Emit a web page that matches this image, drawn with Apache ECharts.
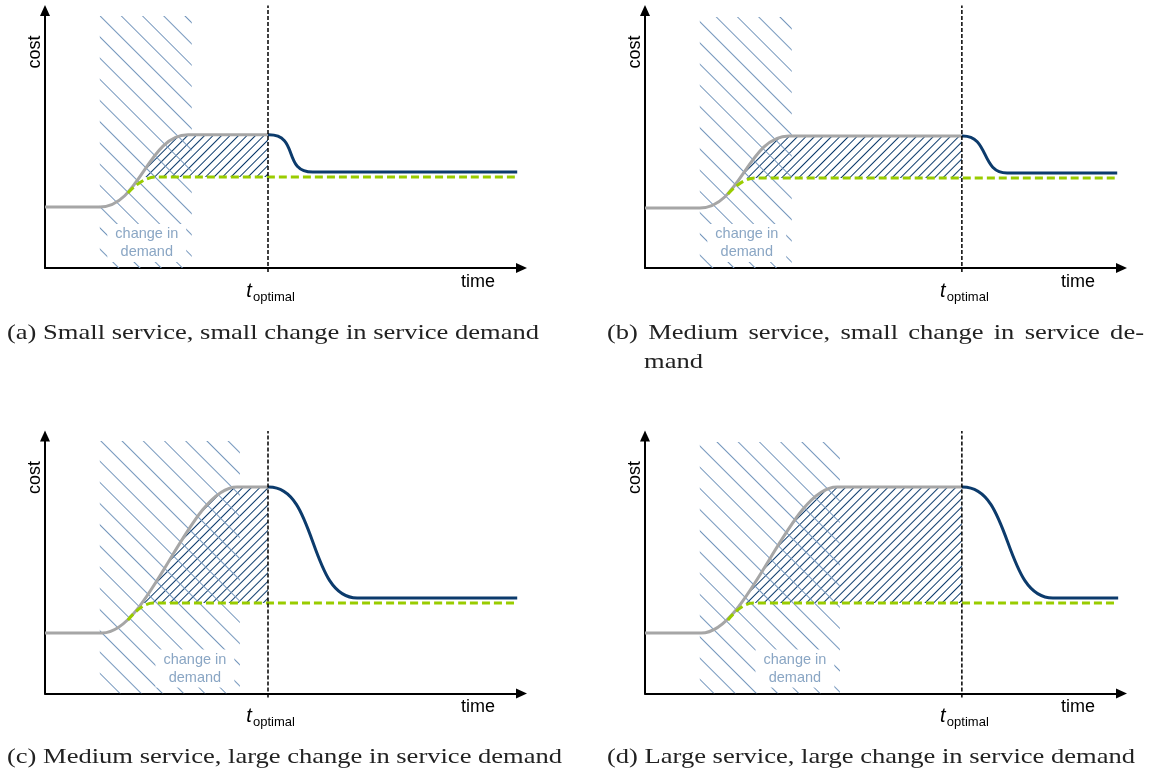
<!DOCTYPE html>
<html>
<head>
<meta charset="utf-8">
<script src="https://cdn.jsdelivr.net/npm/echarts@6/dist/echarts.min.js"></script>
<style>
html, body { margin: 0; padding: 0; background: #fff; }
#main { width: 1152px; height: 774px; }
</style>
</head>
<body>
<div id="main"></div>
<script>
// every panel: time axis 0..100, cost axis 0..100
// order of panels: a, b, c, d

// grey = cost curve while the service is scaled (corner points, S-curves by smoothing)
var greyA = [[0,23.7],[11.5,23.7],[30.0,51.7],[46.8,51.7]];
var greyB = [[0,23.3],[11.5,23.3],[30.2,51.3],[66.5,51.3]];
var greyC = [[0,23.5],[12.0,23.5],[40.3,80.2],[46.8,80.2]];
var greyD = [[0,23.5],[11.8,23.5],[40.3,80.2],[66.5,80.2]];

// green dashed = optimal cost
var greenA = [[17.4,29.1],[23.1,35.3],[99.1,35.3]];
var greenB = [[17.4,28.7],[23.1,35.0],[99.1,35.0]];
var greenC = [[17.4,28.5],[22.7,35.1],[99.1,35.1]];
var greenD = [[17.4,28.5],[22.7,35.1],[99.1,35.1]];

// dark blue = cost after reconfiguration at t_optimal (leaves flat, S-drop, flat)
var blueA = [[46.8,51.7],[47.0,51.7],[56.2,37.3],[99.1,37.3]];
var blueB = [[66.5,51.3],[66.7,51.3],[76.0,36.9],[99.1,36.9]];
var blueC = [[46.8,80.2],[47.0,80.2],[65.5,37.1],[99.1,37.1]];
var blueD = [[66.5,80.2],[66.7,80.2],[85.6,37.1],[99.3,37.1]];

// dark hatched gap between grey and green: from where they part, down to the green level
var gapStart = [20.0, 20.0, 20.3, 20.3];
var gapBase = [35.3, 35.0, 35.1, 35.1];

// "change in demand" window and t_optimal
var demandX = [[11.5,30.8],[11.5,30.8],[11.5,40.9],[11.5,40.9]];
var demandTop = [97.9, 97.5, 98.1, 97.7];
var tOptimal = [46.8, 66.5, 46.8, 66.5];
var tOptSpan = [-1.6, 101.9];

var captions = [
    ['(a) Small service, small change in service demand'],
    ['(b) Medium service, small change in service de-', 'mand'],
    ['(c) Medium service, large change in service demand'],
    ['(d) Large service, large change in service demand']
];

var greys = [greyA, greyB, greyC, greyD];
var greens = [greenA, greenB, greenC, greenD];
var blues = [blueA, blueB, blueC, blueD];
// curve bend of each panel
var greyBend = [0.45, 0.45, 0.35, 0.35];
var blueBend = [0.7, 0.6, 0.55, 0.55];

var gridLeft = [45, 645, 45, 645];
var gridTop = [10.5, 10.5, 436, 436];
var GW = 476.5, GH = 257.5;

var chart = echarts.init(document.getElementById('main'));

function axis(i, min, max, show) {
    return {
        type: 'value', gridIndex: i, min: min, max: max, show: show,
        axisLine: {show: true, onZero: false, symbol: ['none', 'triangle'], symbolSize: [10, 11],
            lineStyle: {color: '#000', width: 2}},
        axisTick: {show: false}, axisLabel: {show: false}, splitLine: {show: false}
    };
}
function lineSeries(i, data, extra) {
    var s = {type: 'line', xAxisIndex: i, yAxisIndex: i, data: data, symbol: 'none', showSymbol: false, silent: true};
    for (var k in extra) s[k] = extra[k];
    return s;
}
function stripes(color, gap, rot) {
    return {symbol: 'rect', symbolSize: 1, dashArrayX: [1, 0], dashArrayY: [1, gap], rotation: rot, color: color};
}

var grids = [], xAxes = [], yAxes = [], series = [];
for (var i = 0; i < 4; i++) {
    grids.push({left: gridLeft[i], top: gridTop[i], width: GW, height: GH});
    xAxes.push(axis(i, 0, 100, true));
    yAxes.push(axis(i, 0, 100, true));
}
// hidden grids that only clip the dark hatch to [gapStart, t_optimal]
for (var i = 0; i < 4; i++) {
    grids.push({left: gridLeft[i] + GW * gapStart[i] / 100, top: gridTop[i],
        width: GW * (tOptimal[i] - gapStart[i]) / 100, height: GH});
    xAxes.push(axis(4 + i, gapStart[i], tOptimal[i], false));
    yAxes.push(axis(4 + i, 0, 100, false));
}

for (var i = 0; i < 4; i++) {
    // dark blue hatch: extra cost between grey and green
    var dd = stripes('#0b3a6b', 5, -Math.PI / 4);
    series.push(lineSeries(4 + i, greys[i], {
        z: 1, smooth: greyBend[i], smoothMonotone: 'x',
        lineStyle: {width: 0, opacity: 0, decal: dd},
        itemStyle: {decal: dd},
        areaStyle: {color: 'rgba(255,255,255,0)', opacity: 1, origin: gapBase[i]}
    }));
    // light blue hatch: change in demand
    var ld = stripes('#7597bd', 14, Math.PI / 4);
    series.push(lineSeries(i, [[demandX[i][0], demandTop[i]], [demandX[i][1], demandTop[i]]], {
        z: 2,
        lineStyle: {width: 0, opacity: 0, decal: ld},
        itemStyle: {decal: ld},
        areaStyle: {color: 'rgba(255,255,255,0)', opacity: 1, origin: 'start'}
    }));
    series.push(lineSeries(i, greys[i], {
        z: 3, smooth: greyBend[i], smoothMonotone: 'x',
        lineStyle: {color: '#a6a6a6', width: 3}
    }));
    series.push(lineSeries(i, greens[i], {
        z: 4, smooth: 0.5, smoothMonotone: 'x',
        lineStyle: {color: '#99cc00', width: 3, type: [8, 4]}
    }));
    series.push(lineSeries(i, blues[i], {
        z: 4, smooth: blueBend[i], smoothMonotone: 'x',
        lineStyle: {color: '#0c3b6c', width: 3}
    }));
    series.push(lineSeries(i, [[tOptimal[i], tOptSpan[0]], [tOptimal[i], tOptSpan[1]]], {
        z: 5, clip: false,
        lineStyle: {color: '#000', width: 1.5, type: [4, 2]}
    }));
}

chart.setOption({
    animation: false,
    backgroundColor: '#fff',
    grid: grids,
    xAxis: xAxes,
    yAxis: yAxes,
    series: series
});

// texts
function txt(text, x, y, font, extra) {
    var st = {text: text, font: font, fill: '#000', textAlign: 'center', align: 'center',
        textVerticalAlign: 'middle', verticalAlign: 'middle'};
    var el = {type: 'text', x: x, y: y, silent: true, z: 100, style: st};
    if (extra) {
        for (var k in extra) {
            if (k === 'style') { for (var s in extra.style) st[s] = extra.style[s]; }
            else el[k] = extra[k];
        }
    }
    return el;
}

var sans = '"Liberation Sans", Arial, sans-serif';
var serif = '"Liberation Serif", "Times New Roman", serif';
var els = [];
for (var i = 0; i < 4; i++) {
    var o = chart.convertToPixel({gridIndex: i}, [0, 0]);
    var vx = chart.convertToPixel({gridIndex: i}, [tOptimal[i], 0])[0];
    var dr = chart.convertToPixel({gridIndex: i}, [demandX[i][1], 0])[0];
    els.push(txt('cost', o[0] - 10, o[1] - 216, '18px ' + sans, {rotation: Math.PI / 2}));
    els.push(txt('time', o[0] + 433, o[1] + 14, '18px ' + sans));
    els.push(txt('t', vx - 19, o[1] + 23, 'italic 20px ' + sans));
    els.push(txt('optimal', vx - 15, o[1] + 29, '13px ' + sans, {style: {textAlign: 'left', align: 'left'}}));
    els.push(txt('change in\ndemand', dr - 45, o[1] - 25, '14.5px ' + sans, {
        style: {fill: '#8aa6c4', lineHeight: 18, backgroundColor: '#fff', padding: [1, 8]}
    }));
}

// captions (wide serif, like the LaTeX caption font)
var capSize = 22;
var ctx = document.createElement('canvas').getContext('2d');
ctx.font = capSize + 'px ' + serif;
var sx = 532 / ctx.measureText(captions[0][0]).width;
var capLeft = [7, 607, 7, 607];
var capY = [333, 333, 757, 757];
function cap(text, x, y) {
    return txt(text, x, y, capSize + 'px ' + serif, {scaleX: sx, style: {textAlign: 'left', align: 'left', fill: '#222'}});
}
for (var i = 0; i < 4; i++) {
    if (captions[i].length === 1) {
        els.push(cap(captions[i][0], capLeft[i], capY[i]));
    } else {
        // justified first line, second line indented
        var words = captions[i][0].split(' ');
        var wsum = 0, ww = [];
        for (var w = 0; w < words.length; w++) { ww.push(ctx.measureText(words[w]).width * sx); wsum += ww[w]; }
        var gap = (1144 - capLeft[i] - wsum) / (words.length - 1);
        var x = capLeft[i];
        for (var w = 0; w < words.length; w++) { els.push(cap(words[w], x, capY[i])); x += ww[w] + gap; }
        els.push(cap(captions[i][1], 644, capY[i] + 29));
    }
}
chart.setOption({graphic: {elements: els}});
</script>
</body>
</html>
